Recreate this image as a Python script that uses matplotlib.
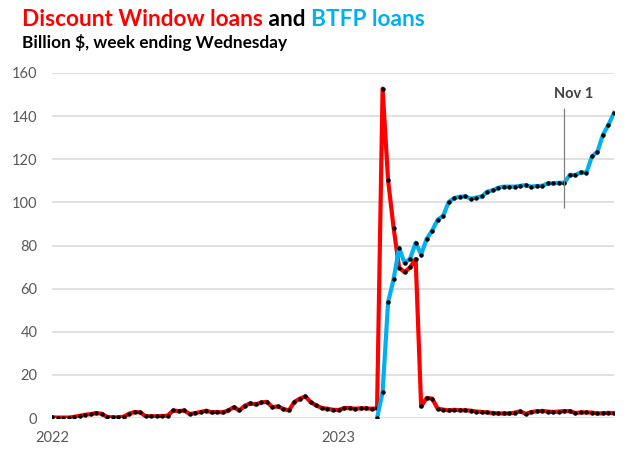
import matplotlib
matplotlib.use("Agg")
import matplotlib.pyplot as plt
import numpy as np
import pandas as pd

# Weekly data, week ending Wednesday
dates = pd.date_range("2022-01-19", periods=103, freq="7D")

# Discount window loans, billion $
discount_window = [
    0.3, 0.2, 0.2, 0.2, 0.5, 1.0, 1.5, 1.8, 2.3, 2.0,
    0.5, 0.3, 0.3, 0.6, 2.0, 2.8, 2.6, 0.8, 0.8, 0.8,
    0.9, 1.1, 3.5, 3.2, 3.5, 1.8, 2.3, 2.8, 3.4, 2.6,
    2.8, 2.6, 3.5, 5.0, 3.5, 5.7, 6.8, 6.3, 7.2, 7.5,
    5.0, 5.4, 4.2, 3.5, 7.5, 9.0, 10.0, 7.2, 5.8, 4.6,
    4.3, 3.8, 3.7, 4.6, 4.6, 4.3, 4.5, 4.5, 4.3, 4.5,
    152.8, 110.2, 88.2, 69.7, 67.6, 69.9, 73.7,
    5.4, 9.3, 9.0, 4.3, 3.9, 3.5, 3.8, 3.6, 3.6, 3.4,
    3.0, 2.8, 2.6, 2.3, 2.1, 2.1, 2.1, 2.5, 3.1, 1.9,
    2.8, 3.1, 3.3, 3.0, 2.8, 3.0, 3.2, 3.2, 2.3, 2.6,
    2.6, 2.5, 2.1, 2.2, 2.4, 2.2,
]

# Bank Term Funding Program loans, billion $ (starts week of Mar 8 2023)
btfp = [np.nan] * 59 + [
    0.0, 11.9, 53.7, 64.4, 79.0, 71.8, 73.9, 81.3, 75.8, 83.1,
    86.9, 92.0, 93.8, 100.2, 102.0, 102.6, 102.8, 101.7, 102.2, 102.8,
    105.0, 105.6, 106.8, 107.3, 107.3, 107.3, 107.7, 108.0, 107.3, 107.6,
    107.7, 108.8, 108.8, 109.1, 109.1, 112.8, 112.7, 113.9, 113.8, 121.3,
    123.5, 131.4, 136.0, 141.5,
]

marker_date = pd.Timestamp("2023-11-01")
marker_range = [97.5, 144]
yticks = [0, 20, 40, 60, 80, 100, 120, 140, 160]
xtick_dates = [pd.Timestamp("2022-01-19"), pd.Timestamp("2023-01-18")]
xtick_labels = ["2022", "2023"]

RED = "#FF0000"
BLUE = "#00B0F0"
GRAY_TXT = "#595959"

plt.rcParams["font.family"] = ["Lato", "DejaVu Sans"]

fig = plt.figure(figsize=(6.4, 4.68), dpi=100)
ax = fig.add_axes([52 / 640, 1 - 418 / 468, (614 - 52) / 640, (418 - 73) / 468])

ax.plot(dates, discount_window, color=RED, linewidth=3.0, zorder=3,
        marker="o", markersize=2.2, markerfacecolor="black",
        markeredgecolor="black", solid_joinstyle="round")
ax.plot(dates, btfp, color=BLUE, linewidth=3.0, zorder=4,
        marker="o", markersize=2.2, markerfacecolor="black",
        markeredgecolor="black", solid_joinstyle="round")

# Nov 1 marker
ax.vlines(marker_date, marker_range[0], marker_range[1], color="#7F7F7F",
          linewidth=0.9, zorder=5)
ax.text(marker_date + pd.Timedelta(days=12), 147, "Nov 1", ha="center",
        va="bottom", fontsize=10.5, fontweight="bold", color="#404040")

ax.set_ylim(0, 160)
ax.set_xlim(dates[0], dates[-1])
ax.set_yticks(yticks)
ax.set_xticks(xtick_dates)
ax.set_xticklabels(xtick_labels)
ax.tick_params(axis="both", length=0, labelsize=10.5, labelcolor=GRAY_TXT)
ax.tick_params(axis="y", pad=10.5)
ax.tick_params(axis="x", pad=9.5)
ax.grid(axis="y", color="#D9D9D9", linewidth=1.1)
ax.set_axisbelow(True)
for s in ax.spines.values():
    s.set_visible(False)

# Multi-colour title
fig.canvas.draw()
renderer = fig.canvas.get_renderer()
x = 22 / 640
y = 1 - 26 / 468
for part, col in [("Discount Window loans", RED), (" and ", "black"), ("BTFP loans", BLUE)]:
    t = fig.text(x, y, part, color=col, fontsize=16.3, fontweight="bold",
                 ha="left", va="baseline")
    bb = t.get_window_extent(renderer=renderer)
    x += bb.width / fig.bbox.width
fig.text(22 / 640, 1 - 48 / 468, "Billion $, week ending Wednesday",
         fontsize=12.4, fontweight="bold", color="black", ha="left", va="baseline")

fig.savefig("out.png", dpi=100)
